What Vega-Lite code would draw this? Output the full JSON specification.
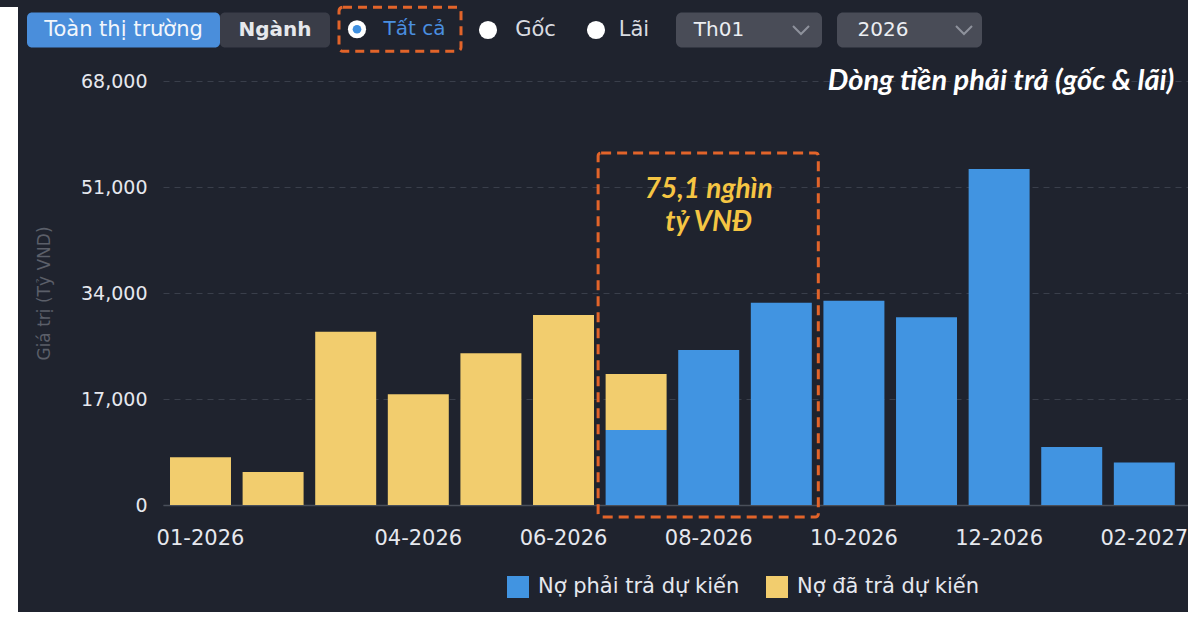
{
  "$schema": "https://vega.github.io/schema/vega-lite/v6.json",
  "background": "#1f232e",
  "padding": {"left": 0, "top": 5, "right": 0, "bottom": 0},
  "config": {"view": {"stroke": null}, "font": "DejaVu Sans"},
  "datasets": {
    "bars": [
      {"month": "01-2026", "series": "Nợ đã trả dự kiến", "value": 7650},
      {"month": "02-2026", "series": "Nợ đã trả dự kiến", "value": 5290},
      {"month": "03-2026", "series": "Nợ đã trả dự kiến", "value": 27800},
      {"month": "04-2026", "series": "Nợ đã trả dự kiến", "value": 17760},
      {"month": "05-2026", "series": "Nợ đã trả dự kiến", "value": 24330},
      {"month": "06-2026", "series": "Nợ đã trả dự kiến", "value": 30480},
      {"month": "07-2026", "series": "Nợ phải trả dự kiến", "value": 12030},
      {"month": "07-2026", "series": "Nợ đã trả dự kiến", "value": 8980},
      {"month": "08-2026", "series": "Nợ phải trả dự kiến", "value": 24860},
      {"month": "09-2026", "series": "Nợ phải trả dự kiến", "value": 32450},
      {"month": "10-2026", "series": "Nợ phải trả dự kiến", "value": 32770},
      {"month": "11-2026", "series": "Nợ phải trả dự kiến", "value": 30100},
      {"month": "12-2026", "series": "Nợ phải trả dự kiến", "value": 53890},
      {"month": "01-2027", "series": "Nợ phải trả dự kiến", "value": 9300},
      {"month": "02-2027", "series": "Nợ phải trả dự kiến", "value": 6800}
    ]
  },
  "spacing": 9,
  "hconcat": [
    {
      "width": 18, "height": 605,
      "view": {"fill": "#ffffff", "stroke": null},
      "data": {"values": [{}]},
      "mark": {"type": "text", "text": ""},
      "encoding": {}
    },
    {
      "spacing": 14,
      "vconcat": [
        {
          "spacing": 0,
          "center": true,
          "hconcat": [
            {
              "width": 193, "height": 35,
              "view": {"fill": "#4a8edb", "stroke": null, "cornerRadius": 5},
              "data": {"values": [{}]},
              "mark": {"type": "text", "text": "Toàn thị trường", "fontSize": 21, "color": "#f2f6fc"},
              "encoding": {}
            },
            {
              "width": 110, "height": 35,
              "view": {"fill": "#3a3d48", "stroke": null, "cornerRadius": 5},
              "data": {"values": [{}]},
              "mark": {"type": "text", "text": "Ngành", "fontSize": 20, "fontWeight": "bold", "color": "#e6e8ec"},
              "encoding": {}
            },
            {
              "width": 7, "height": 35,
              "data": {"values": [{}]},
              "mark": {"type": "text", "text": ""},
              "encoding": {}
            },
            {
              "width": 122, "height": 44,
              "view": {"fill": null, "stroke": "#e2642a", "strokeWidth": 3, "strokeDash": [9, 6], "cornerRadius": 4},
              "data": {"values": [{}]},
              "layer": [
                {"mark": {"type": "point", "shape": "circle", "filled": true, "size": 330, "color": "#ffffff", "opacity": 1, "xOffset": -43}, "encoding": {}},
                {"mark": {"type": "point", "shape": "circle", "filled": true, "size": 75, "color": "#3e8fe0", "opacity": 1, "xOffset": -43}, "encoding": {}},
                {"mark": {"type": "text", "text": "Tất cả", "fontSize": 20, "color": "#4a8fe0", "dx": 14.5}, "encoding": {}}
              ]
            },
            {
              "width": 111, "height": 35,
              "data": {"values": [{}]},
              "layer": [
                {"mark": {"type": "point", "shape": "circle", "filled": true, "size": 330, "color": "#ffffff", "opacity": 1, "xOffset": -30.5}, "encoding": {}},
                {"mark": {"type": "text", "text": "Gốc", "fontSize": 21, "color": "#d9dbe0", "dx": 17}, "encoding": {}}
              ]
            },
            {
              "width": 90, "height": 35,
              "data": {"values": [{}]},
              "layer": [
                {"mark": {"type": "point", "shape": "circle", "filled": true, "size": 330, "color": "#ffffff", "opacity": 1, "xOffset": -23}, "encoding": {}},
                {"mark": {"type": "text", "text": "Lãi", "fontSize": 21, "color": "#d9dbe0", "dx": 15}, "encoding": {}}
              ]
            },
            {
              "width": 12, "height": 35,
              "data": {"values": [{}]},
              "mark": {"type": "text", "text": ""},
              "encoding": {}
            },
            {
              "width": 146, "height": 35,
              "view": {"fill": "#494c57", "stroke": null, "cornerRadius": 6},
              "data": {"values": [{}]},
              "layer": [
                {"mark": {"type": "text", "text": "Th01", "fontSize": 20, "color": "#eceef2", "dx": -30}, "encoding": {}},
                {"mark": {"type": "point", "shape": "M-1,-0.5L0,0.5L1,-0.5", "filled": false, "size": 256, "stroke": "#8e929c", "strokeWidth": 2, "opacity": 1, "xOffset": 52}, "encoding": {}}
              ]
            },
            {
              "width": 15, "height": 35,
              "data": {"values": [{}]},
              "mark": {"type": "text", "text": ""},
              "encoding": {}
            },
            {
              "width": 145, "height": 35,
              "view": {"fill": "#494c57", "stroke": null, "cornerRadius": 6},
              "data": {"values": [{}]},
              "layer": [
                {"mark": {"type": "text", "text": "2026", "fontSize": 20, "color": "#eceef2", "dx": -26.5}, "encoding": {}},
                {"mark": {"type": "point", "shape": "M-1,-0.5L0,0.5L1,-0.5", "filled": false, "size": 256, "stroke": "#8e929c", "strokeWidth": 2, "opacity": 1, "xOffset": 54.5}, "encoding": {}}
              ]
            }
          ]
        },
        {
          "width": 1161,
          "height": 424,
          "view": {"stroke": null},
          "layer": [
            {
              "data": {"name": "bars"},
              "mark": {"type": "bar"},
              "encoding": {
                "x": {
                  "field": "month", "type": "ordinal", "sort": null,
                  "scale": {
                    "type": "band",
                    "domain": ["01-2026", "02-2026", "03-2026", "04-2026", "05-2026", "06-2026", "07-2026", "08-2026", "09-2026", "10-2026", "11-2026", "12-2026", "01-2027", "02-2027"],
                    "range": [136, 1161],
                    "paddingInner": 0.16,
                    "paddingOuter": 0.139,
                    "align": 0.347
                  },
                  "axis": {
                    "values": ["01-2026", "04-2026", "06-2026", "08-2026", "10-2026", "12-2026", "02-2027"],
                    "title": null, "labelAngle": 0, "labelFontSize": 21, "labelColor": "#e6e8ee",
                    "labelPadding": 22, "ticks": false, "tickSize": 0,
                    "domain": true, "domainColor": "#4a4f5a", "domainWidth": 1.5,
                    "grid": false, "labelOverlap": false
                  }
                },
                "y": {
                  "field": "value", "type": "quantitative", "stack": "zero",
                  "scale": {"domain": [0, 68000], "nice": false},
                  "axis": {
                    "values": [0, 17000, 34000, 51000, 68000], "format": ",d", "offset": -136,
                    "title": "Giá trị (Tỷ VND)", "titleColor": "#5b5f69", "titleFontSize": 17, "titleFontWeight": "normal",
                    "titlePadding": 27, "labelFontSize": 19, "labelColor": "#e6e8ee", "labelPadding": 16,
                    "ticks": false, "tickSize": 0, "domain": false,
                    "grid": true, "gridColor": "#3a3f4b", "gridDash": [6, 5], "gridWidth": 1
                  }
                },
                "order": {"field": "series", "sort": "ascending"},
                "color": {
                  "field": "series", "type": "nominal",
                  "scale": {"domain": ["Nợ phải trả dự kiến", "Nợ đã trả dự kiến"], "range": ["#4194e1", "#f2cd6e"]},
                  "legend": {
                    "title": null, "orient": "none", "legendX": 507, "legendY": 569, "direction": "horizontal",
                    "symbolType": "square", "symbolSize": 484, "symbolStrokeWidth": 0, "symbolOpacity": 1,
                    "labelFontSize": 21, "labelColor": "#e6e8ee", "labelOffset": 9, "columnPadding": 26,
                    "padding": 0, "labelLimit": 400
                  }
                }
              }
            },
            {
              "data": {"values": [{}]},
              "mark": {"type": "rect", "filled": false, "stroke": "#e2642a", "strokeWidth": 3, "strokeDash": [10, 6], "cornerRadius": 3, "xOffset": -38, "x2Offset": 37},
              "encoding": {
                "x": {"datum": "07-2026", "type": "ordinal"},
                "x2": {"datum": "09-2026"},
                "y": {"datum": 56450, "type": "quantitative"},
                "y2": {"datum": -1925}
              }
            },
            {
              "data": {"values": [{}]},
              "mark": {"type": "text", "text": ["75,1 nghìn", "tỷ VNĐ"], "font": "Lato", "fontStyle": "italic", "fontWeight": "bold", "fontSize": 28, "color": "#f5c543", "lineHeight": 33, "align": "center", "baseline": "middle"},
              "encoding": {"x": {"datum": "08-2026", "type": "ordinal"}, "y": {"datum": 50520, "type": "quantitative"}}
            },
            {
              "data": {"values": [{}]},
              "mark": {"type": "text", "text": "Dòng tiền phải trả (gốc & lãi)", "font": "Lato", "fontStyle": "italic", "fontWeight": "bold", "fontSize": 29, "color": "#ffffff", "align": "right", "baseline": "middle", "dx": 30},
              "encoding": {"x": {"datum": "02-2027", "type": "ordinal"}, "y": {"datum": 68000, "type": "quantitative"}}
            }
          ]
        }
      ]
    }
  ]
}
